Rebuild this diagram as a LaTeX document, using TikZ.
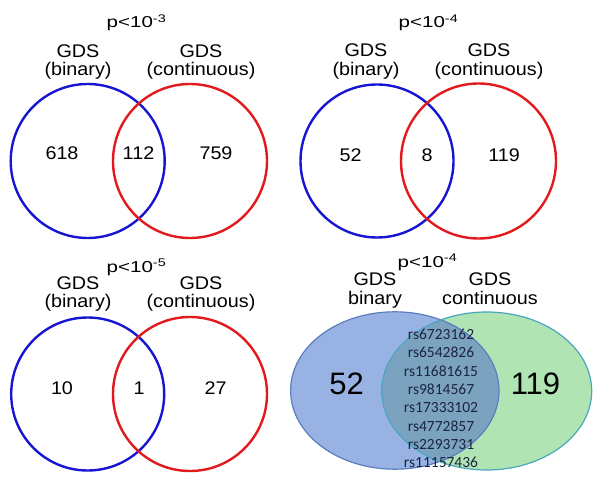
\documentclass[tikz,border=0pt]{standalone}
\usepackage{fontspec}
\setmainfont[FakeStretch=1.08]{Liberation Sans}
\newfontfamily\plainfont{Liberation Sans}
\newfontfamily\pfont[FakeStretch=1.3]{Liberation Sans}
\newfontfamily\snpfont{Carlito}
\usepackage{tikz}
\usetikzlibrary{positioning}
\usepackage{xcolor}
\definecolor{RingBlue}{RGB}{22,22,210}
\definecolor{RingRed}{RGB}{226,26,30}
\definecolor{SetBlue}{HTML}{98B3E3}
\definecolor{SetBlueLine}{HTML}{5A7DC0}
\definecolor{SetGreen}{HTML}{B0E5B3}
\definecolor{SetGreenLine}{HTML}{4AA6BF}
\definecolor{SetBoth}{HTML}{7BA3BF}
\definecolor{SnpText}{HTML}{1B2540}

\begin{document}
\begin{tikzpicture}[x=1pt,y=-1pt,
  every node/.style={inner sep=0pt,font=\fontsize{18.3}{18.3}\selectfont},
  pval/.style={anchor=base,font=\pfont\fontsize{15.8}{18}\selectfont},
  setname/.style={anchor=north,align=center},
  ring/.style={line width=2.4pt}]
\useasboundingbox (0,0) rectangle (604,486);

% p<10^-3
\draw[ring,RingBlue] (87.7,161) circle[radius=77];
\draw[ring,RingRed] (190,161) circle[radius=77];
\node[pval] (pA) at (136.5,28) {p<10\textsuperscript{-3}};
\node[setname] (binA) at (78,44.5) {GDS\\(binary)};
\node[setname] (contA) at (201,44.5) {GDS\\(continuous)};
\node (onlyA1) at (62,153) {618};
\node (bothA) at (138.5,153) {112};
\node (onlyA2) at (216,153) {759};

% p<10^-4
\draw[ring,RingBlue] (377,161) circle[radius=76.5];
\draw[ring,RingRed] (478.5,161) circle[radius=77.5];
\node[pval] (pB) at (428.5,28) {p<10\textsuperscript{-4}};
\node[setname] (binB) at (366,44) {GDS\\(binary)};
\node[setname] (contB) at (489,44) {GDS\\(continuous)};
\node (onlyB1) at (350.5,155) {52};
\node (bothB) at (427,155) {8};
\node (onlyB2) at (504,155) {119};

% p<10^-5
\draw[ring,RingBlue] (87.7,394) circle[radius=76.5];
\draw[ring,RingRed] (190,394) circle[radius=77];
\node[pval] (pC) at (136.5,272) {p<10\textsuperscript{-5}};
\node[setname] (binC) at (78,276.5) {GDS\\(binary)};
\node[setname] (contC) at (201,276.5) {GDS\\(continuous)};
\node (onlyC1) at (62,388) {10};
\node (bothC) at (139,388) {1};
\node (onlyC2) at (215.5,388) {27};

% p<10^-4, SNPs in the overlap
\fill[SetBlue] (394.8,390.5) ellipse[x radius=104.2,y radius=78.7];
\fill[SetGreen] (486.7,391) ellipse[x radius=105,y radius=79];
\begin{scope}
  \clip (394.8,390.5) ellipse[x radius=104.2,y radius=78.7];
  \fill[SetBoth] (486.7,391) ellipse[x radius=105,y radius=79];
\end{scope}
\draw[SetBlueLine,line width=1.2pt] (394.8,390.5) ellipse[x radius=104.2,y radius=78.7];
\draw[SetGreenLine,line width=1.2pt] (486.7,391) ellipse[x radius=105,y radius=79];
\node[pval] (pD) at (427.5,267) {p<10\textsuperscript{-4}};
\node[setname] (binD) at (375,273) {GDS\\binary};
\node[setname] (contD) at (490,273) {GDS\\continuous};
\node[font=\plainfont\fontsize{31}{34}\selectfont] (onlyD1) at (346.5,383.8) {52};
\node[font=\plainfont\fontsize{31}{34}\selectfont] (onlyD2) at (535.5,383.8) {119};
\node[anchor=north,align=center,text=SnpText,font=\snpfont\fontsize{15.5}{18.3}\selectfont] (snps) at (441,329)
  {rs6723162\\rs6542826\\rs11681615\\rs9814567\\rs17333102\\rs4772857\\rs2293731\\rs11157436};
\end{tikzpicture}
\end{document}
